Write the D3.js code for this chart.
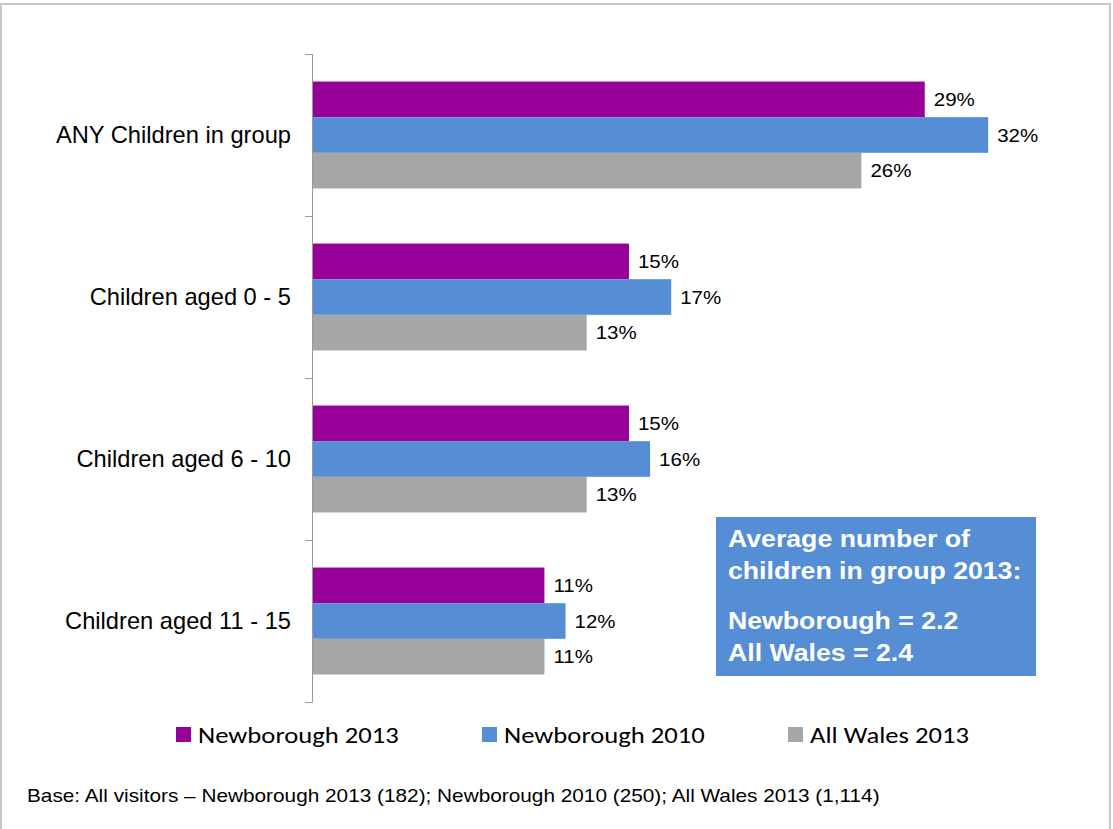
<!DOCTYPE html>
<html>
<head>
<meta charset="utf-8">
<script src="https://cdn.jsdelivr.net/npm/d3@7"></script>
<style>
  body { margin: 0; background: #fff; }
  svg { display: block; }
</style>
</head>
<body>
<div id="graph"></div>
<script>
var categories = ["ANY Children in group", "Children aged 0 - 5", "Children aged 6 - 10", "Children aged 11 - 15"];
var seriesNames = ["Newborough 2013", "Newborough 2010", "All Wales 2013"];
var newborough2013 = [29, 15, 15, 11];
var newborough2010 = [32, 17, 16, 12];
var allWales2013 = [26, 13, 13, 11];
var colorCodes = ["#990099", "#558ED5", "#A6A6A6"];
var boxLines = ["Average number of", "children in group 2013:", "Newborough = 2.2", "All Wales = 2.4"];
var footnote = "Base: All visitors \u2013 Newborough 2013 (182); Newborough 2010 (250); All Wales 2013 (1,114)";

var width = 1113,
    height = 829;

var svg = d3.select("#graph")
    .append("svg")
    .attr("width", width)
    .attr("height", height);

// stretch text horizontally around its x anchor (the original picture is a bit wide)
function stretch(sel, k) {
  sel.each(function() {
    var t = d3.select(this);
    var ax = +t.attr("x");
    t.attr("transform", "translate(" + ax + ",0) scale(" + k + ",1) translate(" + (-ax) + ",0)");
  });
}

// outer frame (only top, left, right visible)
svg.append("path")
    .attr("d", "M1,829 V4 H1110 V829")
    .attr("fill", "none")
    .attr("stroke", "#c8c8c8")
    .attr("stroke-width", 2);

var allSeries = [newborough2013, newborough2010, allWales2013];

var y = d3.scaleBand()
    .domain(categories)
    .range([54, 702])
    .paddingInner(0.34)
    .paddingOuter(0.17);

var ySub = d3.scaleBand()
    .domain(seriesNames)
    .range([0, y.bandwidth()]);

var x = d3.scaleLinear()
    .domain([0, 35])
    .range([312, 312 + 35 * 21.13]);

// bars
var groups = svg.selectAll(".cat")
    .data(categories)
    .enter()
    .append("g")
    .attr("class", "cat")
    .attr("transform", d => "translate(0," + y(d) + ")");

groups.each(function(cat, ci) {
  var g = d3.select(this);
  seriesNames.forEach(function(s, si) {
    var v = allSeries[si][ci];
    g.append("rect")
        .attr("x", x(0))
        .attr("y", ySub(s))
        .attr("width", x(v) - x(0))
        .attr("height", ySub.bandwidth())
        .attr("fill", colorCodes[si]);
    g.append("text")
        .attr("class", "vlabel")
        .attr("x", x(v) + 9)
        .attr("y", ySub(s) + ySub.bandwidth() / 2)
        .attr("dy", "0.38em")
        .attr("font-family", "Liberation Sans, Arial, sans-serif")
        .attr("font-size", "18px")
        .attr("fill", "#000")
        .text(v + "%");
  });
});
stretch(svg.selectAll(".vlabel"), 1.14);

// category axis
var tickYs = d3.range(categories.length + 1).map(i => 54 + i * 162);
svg.append("line")
    .attr("x1", 312.5).attr("x2", 312.5)
    .attr("y1", 54).attr("y2", 702)
    .attr("stroke", "#999").attr("stroke-width", 1);
svg.selectAll(".tick")
    .data(tickYs)
    .enter()
    .append("line")
    .attr("x1", 305).attr("x2", 312.5)
    .attr("y1", d => d + 0.5).attr("y2", d => d + 0.5)
    .attr("stroke", "#999").attr("stroke-width", 1);

svg.selectAll(".catlabel")
    .data(categories)
    .enter()
    .append("text")
    .attr("class", "catlabel")
    .attr("x", 291)
    .attr("y", d => y(d) + y.bandwidth() / 2)
    .attr("dy", "0.36em")
    .attr("text-anchor", "end")
    .attr("font-family", "Liberation Sans, Arial, sans-serif")
    .attr("font-size", "23px")
    .attr("fill", "#000")
    .text(d => d);
stretch(svg.selectAll(".catlabel"), 1.03);

// info box
svg.append("rect")
    .attr("x", 716).attr("y", 517)
    .attr("width", 320).attr("height", 159)
    .attr("fill", "#558ED5");
var boxYs = [547, 579, 629, 661];
svg.selectAll(".boxline")
    .data(boxLines)
    .enter()
    .append("text")
    .attr("class", "boxline")
    .attr("x", 728)
    .attr("y", (d, i) => boxYs[i])
    .attr("font-family", "Liberation Sans, Arial, sans-serif")
    .attr("font-size", "23px")
    .attr("font-weight", "bold")
    .attr("fill", "#fff")
    .text(d => d);
stretch(svg.selectAll(".boxline"), 1.16);

// legend
var legendX = [176, 482, 788];
var legend = svg.selectAll(".legend")
    .data(seriesNames)
    .enter()
    .append("g")
    .attr("class", "legend")
    .attr("transform", (d, i) => "translate(" + legendX[i] + ",0)");
legend.append("rect")
    .attr("x", 0).attr("y", 727)
    .attr("width", 15).attr("height", 15)
    .attr("fill", (d, i) => colorCodes[i]);
var legText = legend.append("text")
    .attr("class", "legtext")
    .attr("x", 22).attr("y", 743)
    .attr("font-family", "Carlito, 'Open Sans', sans-serif")
    .attr("font-size", "23px")
    .attr("fill", "#000")
    .text(d => d);
// fit the first entry to its width in the picture, same factor for all
var legK = 201 / legText.node().getComputedTextLength();
stretch(legText, legK);

// footnote
var foot = svg.append("text")
    .attr("x", 27).attr("y", 802)
    .attr("font-family", "Liberation Sans, Arial, sans-serif")
    .attr("font-size", "18px")
    .attr("fill", "#000")
    .text(footnote);
stretch(foot, 853 / foot.node().getComputedTextLength());
</script>
</body>
</html>
